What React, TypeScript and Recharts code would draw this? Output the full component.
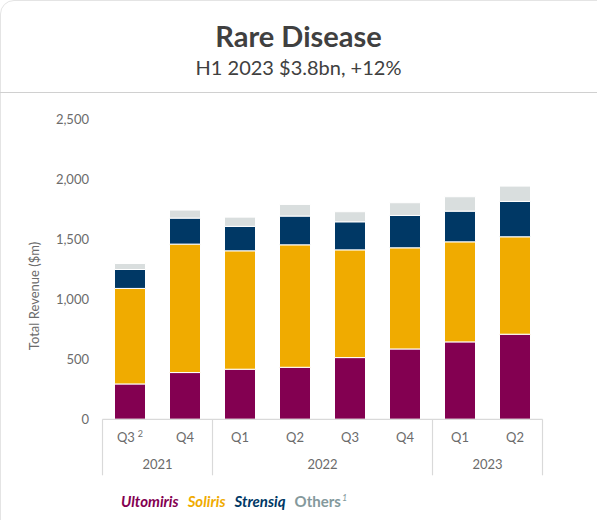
import React from 'react';
import { BarChart, Bar, XAxis, YAxis } from 'recharts';

const quarters = ['Q3', 'Q4', 'Q1', 'Q2', 'Q3', 'Q4', 'Q1', 'Q2'];
const quarterNotes = ['2', '', '', '', '', '', '', ''];
const years = ['2021', '2021', '2022', '2022', '2022', '2022', '2023', '2023'];
const ultomiris = [295, 390, 418, 434, 515, 587, 646, 710];
const soliris = [797, 1072, 988, 1022, 899, 844, 835, 813];
const strensiq = [158, 217, 204, 240, 234, 270, 256, 295];
const others = [50, 67, 77, 97, 84, 106, 120, 128];
const yTicks = [0, 500, 1000, 1500, 2000, 2500];

const title = 'Rare Disease';
const subtitle = 'H1 2023 $3.8bn, +12%';
const yLabel = 'Total Revenue ($m)';
const legendItems = [
  { name: 'Ultomiris', color: '#830051', italic: true, note: '' },
  { name: 'Soliris', color: '#F0AB00', italic: true, note: '' },
  { name: 'Strensiq', color: '#003865', italic: true, note: '' },
  { name: 'Others', color: '#84999C', italic: false, note: '1' },
];

const COLORS = {
  ultomiris: '#830051',
  soliris: '#F0AB00',
  strensiq: '#003865',
  others: '#D9DEDE',
};

const data = quarters.map((q, i) => ({
  key: `${years[i]}-${q}`,
  quarter: q,
  note: quarterNotes[i],
  year: years[i],
  ultomiris: ultomiris[i],
  soliris: soliris[i],
  strensiq: strensiq[i],
  others: others[i],
}));

const FONT = 'Lato, "Open Sans", sans-serif';
const TEXT_GREY = '#6b6b6b';
const LINE_GREY = '#d9d9d9';

const W = 597;
const H = 520;
const PLOT_LEFT = 102.5;
const PLOT_RIGHT = 542.5;
const PLOT_TOP = 119.7;
const BAND = (PLOT_RIGHT - PLOT_LEFT) / quarters.length;

const groupInfo = years.map((y, i) => {
  const isStart = i === 0 || years[i - 1] !== y;
  let len = 0;
  if (isStart) {
    let j = i;
    while (j < years.length && years[j] === y) {
      len++;
      j++;
    }
  }
  return { isStart, len };
});

const QuarterTick = (props: any) => {
  const { x, y, payload } = props;
  const i = props.index ?? payload?.index ?? 0;
  const g = groupInfo[i];
  const left = x - BAND / 2;
  const lineBottom = y + 56;
  return (
    <g>
      <text
        x={x}
        y={y + 23}
        textAnchor="middle"
        fill={TEXT_GREY}
        fontSize={13}
        fontFamily={FONT}
      >
        {quarters[i]}
        {quarterNotes[i] ? (
          <tspan dx={3} dy={-5} fontSize={9}>
            {quarterNotes[i]}
          </tspan>
        ) : null}
      </text>
      {g.isStart ? (
        <>
          <line x1={left} x2={left} y1={y} y2={lineBottom} stroke={LINE_GREY} strokeWidth={1.2} />
          <text
            x={left + (g.len * BAND) / 2}
            y={y + 50}
            textAnchor="middle"
            fill={TEXT_GREY}
            fontSize={13}
            fontFamily={FONT}
          >
            {years[i]}
          </text>
        </>
      ) : null}
      {i === quarters.length - 1 ? (
        <line x1={x + BAND / 2} x2={x + BAND / 2} y1={y} y2={lineBottom} stroke={LINE_GREY} strokeWidth={1.2} />
      ) : null}
    </g>
  );
};

const YLabel = () => (
  <text
    x={34}
    y={296}
    transform="rotate(-90 34 296)"
    textAnchor="middle"
    dominantBaseline="central"
    fill={TEXT_GREY}
    fontSize={13}
    fontFamily={FONT}
  >
    {yLabel}
  </text>
);

export default function App() {
  return (
    <div
      style={{
        position: 'absolute',
        left: 0,
        top: 0,
        width: W,
        height: H,
        overflow: 'hidden',
        background: '#fff',
        fontFamily: FONT,
      }}
    >
      <div
        style={{
          position: 'absolute',
          left: 0,
          top: 0,
          width: W + 40,
          height: H + 40,
          border: '1.5px solid #e4e4e4',
          borderRadius: 14,
          boxSizing: 'border-box',
        }}
      />
      <div
        style={{
          position: 'absolute',
          left: 0,
          top: 16,
          width: W,
          textAlign: 'center',
          fontSize: 29,
          fontWeight: 700,
          color: '#404040',
          lineHeight: '40px',
        }}
      >
        {title}
      </div>
      <div
        style={{
          position: 'absolute',
          left: 0,
          top: 53,
          width: W,
          textAlign: 'center',
          fontSize: 20,
          color: '#404040',
          lineHeight: '28px',
        }}
      >
        {subtitle}
      </div>
      <div
        style={{
          position: 'absolute',
          left: 0,
          top: 92,
          width: W,
          height: 0,
          borderTop: '1.5px solid #d0d0d0',
        }}
      />
      <div style={{ position: 'absolute', left: 0, top: 0 }}>
        <BarChart
          width={W}
          height={H}
          data={data}
          margin={{ top: PLOT_TOP, right: W - PLOT_RIGHT, bottom: 40.7, left: 0 }}
          barSize={31}
        >
          <XAxis
            dataKey="key"
            height={60}
            interval={0}
            tickLine={false}
            tickSize={0}
            tickMargin={0}
            axisLine={{ stroke: LINE_GREY, strokeWidth: 1.2 }}
            tick={<QuarterTick />}
          />
          <YAxis
            width={PLOT_LEFT}
            domain={[0, 2500]}
            ticks={yTicks}
            interval={0}
            axisLine={false}
            tickLine={false}
            tickSize={0}
            tickMargin={13.5}
            tick={{ fill: TEXT_GREY, fontSize: 13, fontFamily: FONT }}
            tickFormatter={(v: number) => v.toLocaleString('en-US')}
            label={() => <YLabel />}
          />
          <Bar dataKey="ultomiris" stackId="a" fill={COLORS.ultomiris} stroke="#ffffff" strokeWidth={1} isAnimationActive={false} />
          <Bar dataKey="soliris" stackId="a" fill={COLORS.soliris} stroke="#ffffff" strokeWidth={1} isAnimationActive={false} />
          <Bar dataKey="strensiq" stackId="a" fill={COLORS.strensiq} stroke="#ffffff" strokeWidth={1} isAnimationActive={false} />
          <Bar dataKey="others" stackId="a" fill={COLORS.others} stroke="#ffffff" strokeWidth={1} isAnimationActive={false} />
        </BarChart>
      </div>
      <div
        style={{
          position: 'absolute',
          left: 121,
          top: 490,
          display: 'flex',
          alignItems: 'baseline',
          gap: 9,
          fontSize: 15,
          fontWeight: 700,
          lineHeight: '22px',
          whiteSpace: 'nowrap',
        }}
      >
        {legendItems.map((it) => (
          <span key={it.name} style={{ color: it.color, fontStyle: it.italic ? 'italic' : 'normal' }}>
            {it.name}
            {it.note ? (
              <span
                style={{
                  fontSize: 9,
                  fontStyle: 'italic',
                  fontWeight: 400,
                  marginLeft: 1,
                  position: 'relative',
                  top: -6,
                  lineHeight: 0,
                }}
              >
                {it.note}
              </span>
            ) : null}
          </span>
        ))}
      </div>
    </div>
  );
}
